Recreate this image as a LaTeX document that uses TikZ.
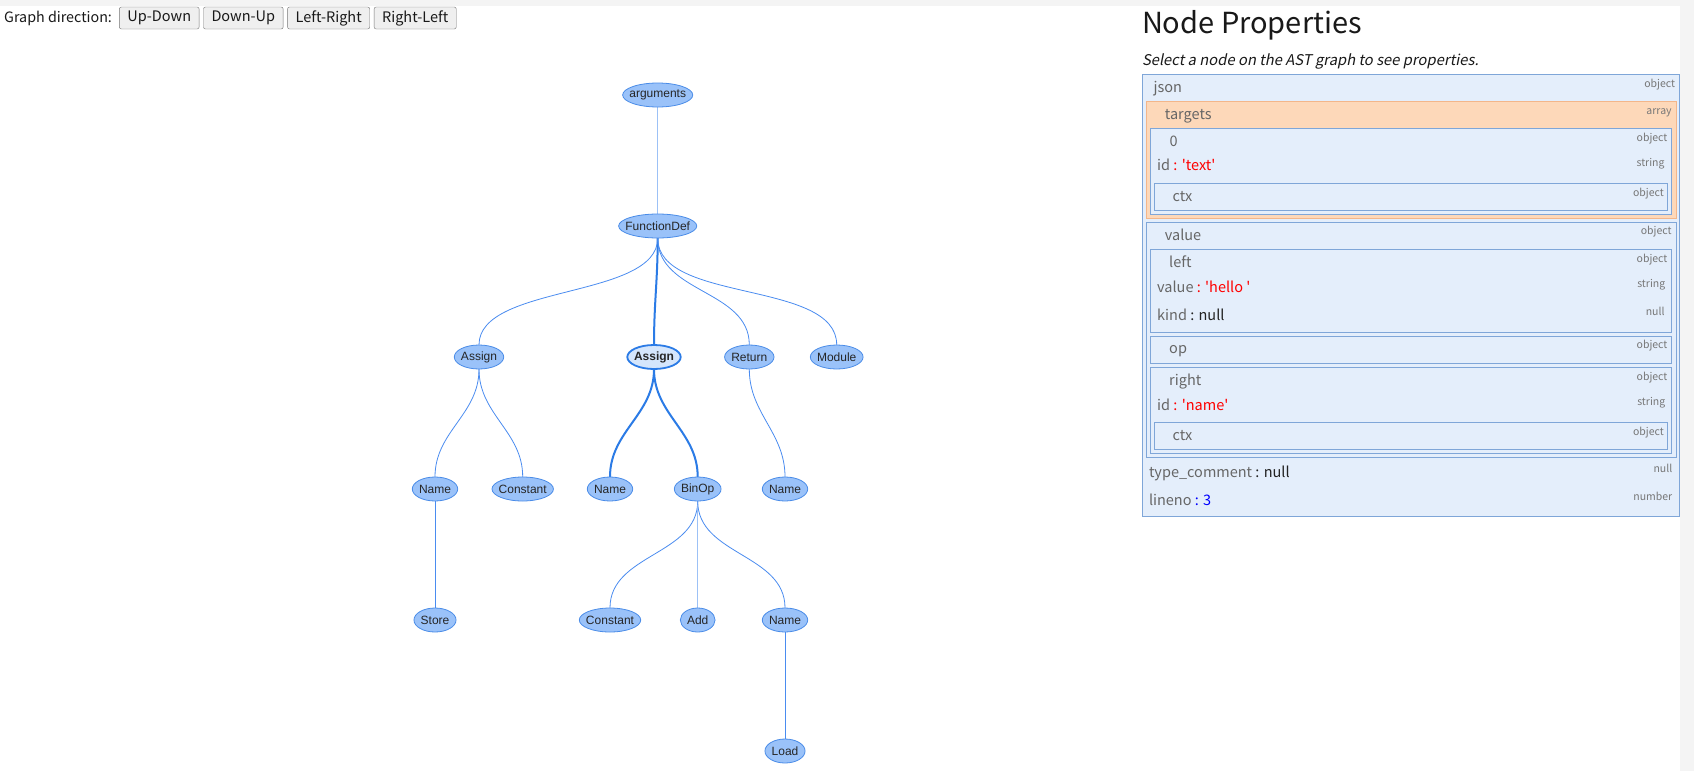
\documentclass[tikz,border=0pt]{standalone}
\usepackage{fontspec}
\setmainfont{Noto Sans CJK KR}
\newfontfamily\uifont{Noto Sans CJK KR}
\newfontfamily\uiitfont[FakeSlant=0.2]{Noto Sans CJK KR}
\newfontfamily\graphfont{Liberation Sans}
\usetikzlibrary{positioning,calc,backgrounds}

\definecolor{nodefill}{HTML}{9AC2F9}
\definecolor{nodeline}{HTML}{4A8CE8}
\definecolor{selfill}{HTML}{D5E6FC}
\definecolor{edgeblue}{HTML}{4A8CF0}
\definecolor{faintblue}{HTML}{9CC1F6}
\definecolor{hiblue}{HTML}{2B7BE6}
\definecolor{jsonbg}{HTML}{E4EEFB}
\definecolor{jsonline}{HTML}{7FA6D8}
\definecolor{arraybg}{HTML}{FDD8B9}
\definecolor{arrayline}{HTML}{F3B68A}
\definecolor{keygray}{HTML}{666666}
\definecolor{typegray}{HTML}{777777}
\definecolor{valdark}{HTML}{222222}
\definecolor{strred}{HTML}{FF0000}
\definecolor{numblue}{HTML}{0000FF}
\definecolor{btnfill}{HTML}{EFEFEF}
\definecolor{btnline}{HTML}{767676}
\definecolor{pagegray}{HTML}{F4F4F4}

\begin{document}
\begin{tikzpicture}[x=1pt, y=-1pt, node distance=131pt,
  ast node/.style={inner sep=0pt, minimum height=24pt, text=black!85, font=\graphfont\fontsize{12}{14}\selectfont},
  ast shape/.style={fill=nodefill, draw=nodeline, line width=0.8pt},
  sel shape/.style={fill=selfill, draw=hiblue, line width=1.8pt},
  ast edge/.style={draw=edgeblue, line width=0.8pt},
  hi edge/.style={draw=hiblue, line width=2pt},
  faint edge/.style={draw=faintblue, line width=1.4pt},
  btn/.style={draw=btnline, fill=btnfill, rounded corners=2pt, minimum height=22pt, inner xsep=8pt, inner ysep=0pt, text=black!90, font=\uifont\fontsize{14.5}{17}\selectfont},
  json box/.style={fill=jsonbg, draw=jsonline, line width=0.8pt},
  array box/.style={fill=arraybg, draw=arrayline, line width=0.8pt},
  key text/.style={anchor=base west, inner sep=0pt, text=keygray, font=\uifont\fontsize{14.5}{17}\selectfont},
  type text/.style={anchor=base east, inner sep=0pt, text=typegray, font=\uifont\fontsize{10.5}{12}\selectfont}]

% page
\begin{scope}[on background layer]
\fill[white] (0,0) rectangle (1694,771);
\fill[pagegray] (0,0) rectangle (1680,6);
\fill[pagegray] (1680,0) rectangle (1694,771);
\end{scope}
\useasboundingbox (0,0) rectangle (1694,771);

% direction buttons
\node[anchor=west, inner sep=0pt, text=black!90, font=\uifont\fontsize{14.3}{17}\selectfont] (gdir) at (4,18) {Graph direction:};
\node[btn, right=7pt of gdir]      (updown)    {Up-Down};
\node[btn, right=4pt of updown]    (downup)    {Down-Up};
\node[btn, right=4pt of downup]    (leftright) {Left-Right};
\node[btn, right=4pt of leftright] (rightleft) {Right-Left};

% AST graph
\node[ast node] at (657.7,95)          (arg)   {arguments};
\node[ast node, below of=arg]          (fdef)  {FunctionDef};
\node[ast node] at (479,357)           (asg1)  {Assign};
\node[ast node, font=\graphfont\bfseries\fontsize{12}{14}\selectfont] at (654,357) (asg2) {Assign};
\node[ast node] at (749.3,357)         (ret)   {Return};
\node[ast node] at (836.7,357)         (mod)   {Module};
\node[ast node] at (435,489)           (nm1)   {Name};
\node[ast node] at (522.7,489)         (cst1)  {Constant};
\node[ast node] at (610,489)           (nm2)   {Name};
\node[ast node] at (697.7,489)         (binop) {BinOp};
\node[ast node] at (785,489)           (nm3)   {Name};
\node[ast node, below of=nm1]          (store) {Store};
\node[ast node, below of=nm2]          (cst2)  {Constant};
\node[ast node, below of=binop]        (add)   {Add};
\node[ast node, below of=nm3]          (nm4)   {Name};
\node[ast node, below of=nm4]          (load)  {Load};

\begin{scope}[on background layer]
\draw[faint edge] (arg.south) -- (fdef.north);
\draw[ast edge] (fdef.south) to[out=-90,in=90,looseness=0.75] (asg1.north);
\draw[hi edge]  (fdef.south) to[out=-90,in=90] (asg2.north);
\draw[ast edge] (fdef.south) to[out=-90,in=90] (ret.north);
\draw[ast edge] (fdef.south) to[out=-90,in=90,looseness=0.8] (mod.north);
\draw[ast edge] (asg1.south) to[out=-90,in=90] (nm1.north);
\draw[ast edge] (asg1.south) to[out=-90,in=90] (cst1.north);
\draw[hi edge]  (asg2.south) to[out=-90,in=90] (nm2.north);
\draw[hi edge]  (asg2.south) to[out=-90,in=90] (binop.north);
\draw[ast edge] (ret.south)  to[out=-90,in=90] (nm3.north);
\draw[ast edge] (nm1.south) -- (store.north);
\draw[ast edge] (binop.south) to[out=-90,in=90] (cst2.north);
\draw[faint edge] (binop.south) -- (add.north);
\draw[ast edge] (binop.south) to[out=-90,in=90] (nm4.north);
\draw[ast edge] (nm4.south) -- (load.north);
% ellipses under the labels
\foreach \v in {arg,fdef,asg1,ret,mod,nm1,cst1,nm2,binop,nm3,store,cst2,add,nm4,load}
  \draw[ast shape] let \p1=($(\v.east)-(\v.west)$) in
    (\v.center) ellipse [x radius={0.5*\x1+6.5pt}, y radius=12pt];
\draw[sel shape] let \p1=($(asg2.east)-(asg2.west)$) in
    (asg2.center) ellipse [x radius={0.5*\x1+6.5pt}, y radius=12pt];
\end{scope}

% properties panel
\node[anchor=base west, inner sep=0pt, text=black!90, font=\uifont\fontsize{29}{34}\selectfont] (title) at (1141.8,33.3) {Node Properties};
\node[anchor=base west, inner sep=0pt, text=black!90, font=\uiitfont\fontsize{14.8}{18}\selectfont] (hint) at (1141.8,65.7) {Select a node on the AST graph to see properties.};

\draw[json box]  (1142.8,74.3) rectangle (1679.6,516.7);
\draw[array box] (1146.4,101.7) rectangle (1676,218.3);
\draw[json box]  (1150.6,128.3) rectangle (1671.8,214);
\draw[json box]  (1154.1,183.3) rectangle (1667.6,210.7);
\draw[json box]  (1146.4,222.5) rectangle (1676,457.3);
\draw[json box]  (1150.6,249.3) rectangle (1671.8,332.3);
\draw[json box]  (1150.6,336.3) rectangle (1671.8,363.3);
\draw[json box]  (1150.6,367.3) rectangle (1671.8,453.3);
\draw[json box]  (1154.1,422.3) rectangle (1667.6,449.3);

\node[key text]  (kjson)    at (1153.4,92.7)  {json};
\node[type text] (tjson)    at (1675.3,87.3)  {object};
\node[key text]  (ktargets) at (1164.7,119.3) {targets};
\node[type text] (ttargets) at (1671.8,114.3) {array};
\node[key text]  (kzero)    at (1169.3,146)   {0};
\node[type text] (tzero)    at (1667.6,141)   {object};
\node[key text]  (kid)      at (1157,170.7)   {id \textcolor{strred}{: \textquotesingle text\textquotesingle}};
\node[type text] (tid)      at (1664.7,166)   {string};
\node[key text]  (kctx)     at (1172.5,201.7) {ctx};
\node[type text] (tctx)     at (1664,196)     {object};
\node[key text]  (kvalue)   at (1164.7,240)   {value};
\node[type text] (tvalue)   at (1671.8,234)   {object};
\node[key text]  (kleft)    at (1169,267.3)   {left};
\node[type text] (tleft)    at (1667.6,262)   {object};
\node[key text]  (khello)   at (1157,292.3)   {value \textcolor{strred}{: \textquotesingle hello \textquotesingle}};
\node[type text] (thello)   at (1665.4,287)   {string};
\node[key text]  (kkind)    at (1157,320)     {kind \textcolor{valdark}{: null}};
\node[type text] (tkind)    at (1664.7,315)   {null};
\node[key text]  (kop)      at (1169,353.3)   {op};
\node[type text] (top)      at (1667.6,348)   {object};
\node[key text]  (kright)   at (1169,385)     {right};
\node[type text] (tright)   at (1667.6,380)   {object};
\node[key text]  (kname)    at (1157,410)     {id \textcolor{strred}{: \textquotesingle name\textquotesingle}};
\node[type text] (tname)    at (1665.4,405)   {string};
\node[key text]  (kctxb)    at (1172.5,440.7) {ctx};
\node[type text] (tctxb)    at (1664,435)     {object};
\node[key text]  (kcomment) at (1148.8,477.3) {type\_comment \textcolor{valdark}{: null}};
\node[type text] (tcomment) at (1672.5,472)   {null};
\node[key text]  (klineno)  at (1148.8,505)   {lineno \textcolor{numblue}{: 3}};
\node[type text] (tlineno)  at (1672.5,500)   {number};
\end{tikzpicture}
\end{document}
